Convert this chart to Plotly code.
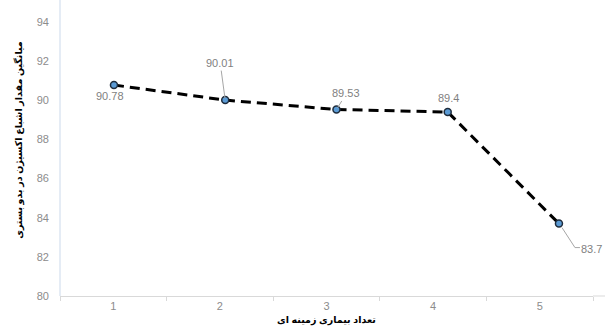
import plotly.graph_objects as go

categories = [1, 2, 3, 4, 5]
values = [90.78, 90.01, 89.53, 89.4, 83.7]
value_labels = ["90.78", "90.01", "89.53", "89.4", "83.7"]
y_ticks = [80, 82, 84, 86, 88, 90, 92, 94]
x_title = "تعداد بیماری زمینه ای"
y_title = "میانگین مقدار اشباع اکسیژن در بدو بستری"

fig = go.Figure()
# invisible trace anchoring the category axis (keeps it drawn)
fig.add_trace(go.Scatter(
    x=categories, y=values, mode="markers", marker=dict(opacity=0),
    showlegend=False, hoverinfo="skip"))
# points are drawn on an overlaid (hidden) x axis, as in the reference the marks
# sit slightly more spread out than the category labels
fig.add_trace(go.Scatter(
    x=categories, y=values, mode="lines+markers", xaxis="x2",
    line=dict(color="black", width=3, dash="10px,6px"),
    marker=dict(size=7, color="#5b9bd5", line=dict(color="#1f2d3d", width=1.5)),
    showlegend=False, hoverinfo="skip"))

# label offsets (pixels) per point: (ax, ay, style)
offsets = [(-4, 11, "plain"), (-5, -37, "arrow"), (10, -16, "arrow"),
           (1, -14, "plain"), (33, 25, "elbow")]
for c, v, t, (ax, ay, style) in zip(categories, values, value_labels, offsets):
    if style == "arrow":
        fig.add_annotation(x=c, y=v, xref="x2", yref="y", text=t, showarrow=True,
                           arrowhead=0, arrowwidth=1, arrowcolor="#a6a6a6", ax=ax, ay=ay,
                           standoff=2, font=dict(size=11, color="#7f7f7f"))
    else:
        fig.add_annotation(x=c, y=v, xref="x2", yref="y", text=t, showarrow=False,
                           xshift=ax, yshift=-ay, font=dict(size=11, color="#7f7f7f"))
    if style == "elbow":
        for (px0, py0, px1, py1) in [(3, -4, 16, -24), (16, -24, 21, -24)]:
            fig.add_shape(type="line", xref="x2", yref="y",
                          xsizemode="pixel", ysizemode="pixel", xanchor=c, yanchor=v,
                          x0=px0, y0=py0, x1=px1, y1=py1,
                          line=dict(color="#a6a6a6", width=1))

# axis titles
fig.add_annotation(xref="paper", yref="paper", x=0.5, y=-0.087, yanchor="middle",
                   text="<b>" + x_title + "</b>", showarrow=False,
                   font=dict(size=9.5, color="black"))
fig.add_annotation(xref="paper", yref="paper", x=-0.077, y=0.57, xanchor="center",
                   textangle=-90, text="<b>" + y_title + "</b>", showarrow=False,
                   font=dict(size=9.5, color="black"))

fig.add_shape(type="line", xref="paper", yref="paper", x0=0, x1=0, y0=0, y1=1.08,
              line=dict(color="#dce6f2", width=1.5))
fig.add_shape(type="line", xref="paper", yref="paper", x0=1, x1=1.03, y0=0, y1=0,
              line=dict(color="#d9d9d9", width=1))

fig.update_layout(
    width=605, height=326,
    margin=dict(l=60, r=12, t=22, b=30),
    paper_bgcolor="white", plot_bgcolor="white",
    font=dict(family="Liberation Sans, DejaVu Sans, sans-serif"),
    xaxis=dict(range=[0.5, 5.5], tickvals=categories, ticks="", automargin=False,
               minor=dict(tick0=0.5, dtick=1, ticks="outside", ticklen=4,
                          tickcolor="#d9d9d9", showgrid=False),
               showline=True, linecolor="#d9d9d9", linewidth=1, zeroline=False,
               showgrid=False, tickfont=dict(size=11, color="#8c8c8c")),
    xaxis2=dict(overlaying="x", range=[0.515, 5.306], visible=False),
    yaxis=dict(range=[80, 94], tickvals=y_ticks, showgrid=False, zeroline=False,
               showline=False, ticks="", ticklabelstandoff=10, automargin=False,
               tickfont=dict(size=11, color="#8c8c8c")),
)
fig.write_html("out.html")
